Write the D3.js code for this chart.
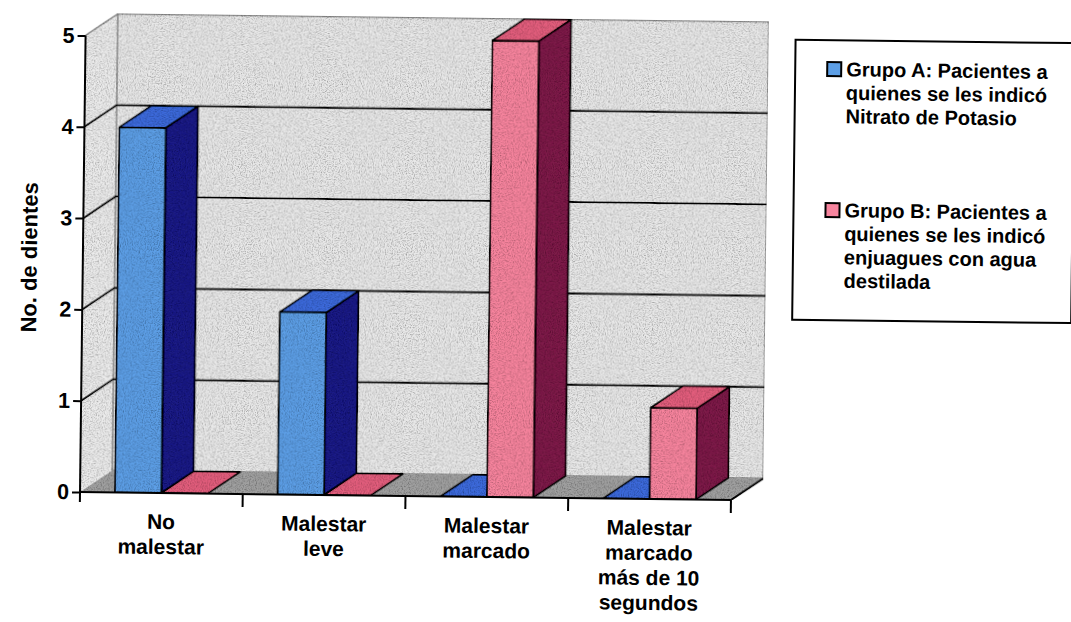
<!DOCTYPE html>
<html>
<head>
<meta charset="utf-8">
<script src="https://cdn.jsdelivr.net/npm/d3@7"></script>
<style>
  html, body { margin: 0; padding: 0; background: #ffffff; }
  svg { display: block; }
  text { font-family: "Liberation Sans", Arial, sans-serif; font-weight: bold; fill: #000; }
</style>
</head>
<body>
<svg id="chart" width="1071" height="622"></svg>
<script>
// ---- data ----
const categories = ["No malestar", "Malestar leve", "Malestar marcado", "Malestar marcado más de 10 segundos"];
const categoryLines = [["No", "malestar"], ["Malestar", "leve"], ["Malestar", "marcado"], ["Malestar", "marcado", "más de 10", "segundos"]];
const seriesKeys = ["A", "B"];
const grupoA = [4, 2, 0, 0];
const grupoB = [0, 0, 5, 1];
const yTicks = [0, 1, 2, 3, 4, 5];
const yTitle = "No. de dientes";
const legendA = ["Grupo A: Pacientes a", "quienes se les indicó", "Nitrato de Potasio"];
const legendB = ["Grupo B: Pacientes a", "quienes se les indicó", "enjuagues con agua", "destilada"];

// ---- styles ----
const colors = {
  A: { front: "#5d9fe6", top: "#3e6bdc", side: "#1b1a86" },
  B: { front: "#f7849e", top: "#e45f7e", side: "#7e1d48" }
};
const wallFill = "#e9e9e9";
const sideWallFill = "#ececec";
const floorFill = "#a0a0a0";

const svg = d3.select("#chart");

// speckle texture resembling the printed/scanned original
const defs = svg.append("defs");
const f = defs.append("filter").attr("id", "speckle")
  .attr("x", 0).attr("y", 0).attr("width", "100%").attr("height", "100%");
f.append("feTurbulence").attr("type", "fractalNoise").attr("baseFrequency", 0.85)
  .attr("numOctaves", 2).attr("seed", 4).attr("result", "n");
f.append("feColorMatrix").attr("in", "n").attr("type", "matrix")
  .attr("values", "0 0 0 0 0  0 0 0 0 0  0 0 0 0 0  1.4 0 0 0 -0.58").attr("result", "dots");
f.append("feComposite").attr("in", "dots").attr("in2", "SourceGraphic").attr("operator", "in").attr("result", "d2");
const fm = f.append("feMerge");
fm.append("feMergeNode").attr("in", "SourceGraphic");
fm.append("feMergeNode").attr("in", "d2");

const root = svg.append("g").attr("transform", "rotate(0.7, 80, 492)");
const plot = root.append("g").attr("filter", "url(#speckle)");

// geometry
const X0 = 80, X1 = 731, Y0 = 492;
const dX = 32, dY = -22;

const y = d3.scaleLinear().domain([0, 5]).range([Y0, Y0 - 5 * 91.3]);
const x0 = d3.scaleBand().domain(categories).range([X0, X1]).paddingInner(0).paddingOuter(0);
const x1 = d3.scaleBand().domain(seriesKeys).range([0, x0.bandwidth()]).paddingInner(0).paddingOuter(0.75);

const yTop = y(5);

// side wall
plot.append("path")
  .attr("d", `M${X0},${Y0} L${X0},${yTop} L${X0 + dX},${yTop + dY} L${X0 + dX},${Y0 + dY} Z`)
  .attr("fill", sideWallFill).attr("stroke", "none");
// back wall
plot.append("path")
  .attr("d", `M${X0 + dX},${yTop + dY} L${X1 + dX},${yTop + dY} L${X1 + dX},${Y0 + dY} L${X0 + dX},${Y0 + dY} Z`)
  .attr("fill", wallFill).attr("stroke", "#8c8c8c").attr("stroke-width", 1.5);
// side wall top edge
plot.append("line")
  .attr("x1", X0).attr("y1", yTop).attr("x2", X0 + dX).attr("y2", yTop + dY)
  .attr("stroke", "#8c8c8c").attr("stroke-width", 1.5);
// floor
plot.append("path")
  .attr("d", `M${X0},${Y0} L${X1},${Y0} L${X1 + dX},${Y0 + dY} L${X0 + dX},${Y0 + dY} Z`)
  .attr("fill", floorFill).attr("stroke", "none");
plot.append("line")
  .attr("x1", X1).attr("y1", Y0).attr("x2", X1 + dX).attr("y2", Y0 + dY)
  .attr("stroke", "#000").attr("stroke-width", 2);

// gridlines (side wall diagonal + back wall horizontal)
const gridVals = yTicks.filter(v => v > 0 && v < 5);
const grid = plot.append("g");
gridVals.forEach(v => {
  grid.append("path")
    .attr("d", `M${X0},${y(v)} L${X0 + dX},${y(v) + dY} L${X1 + dX},${y(v) + dY}`)
    .attr("fill", "none").attr("stroke", "#000").attr("stroke-width", 2);
});

// bars
const bars = plot.append("g");
categories.forEach((c, i) => {
  const vals = { A: grupoA[i], B: grupoB[i] };
  seriesKeys.forEach(k => {
    const v = vals[k];
    const bx = x0(c) + x1(k);
    const w = x1.bandwidth();
    const yv = y(v);
    const col = colors[k];
    const g = bars.append("g").attr("stroke", "#000").attr("stroke-width", 1.8).attr("stroke-linejoin", "round");
    if (v > 0) {
      g.append("path")
        .attr("d", `M${bx + w},${yv} L${bx + w + dX},${yv + dY} L${bx + w + dX},${Y0 + dY} L${bx + w},${Y0} Z`)
        .attr("fill", col.side);
      g.append("rect")
        .attr("x", bx).attr("y", yv).attr("width", w).attr("height", Y0 - yv)
        .attr("fill", col.front);
    }
    g.append("path")
      .attr("d", `M${bx},${yv} L${bx + dX},${yv + dY} L${bx + w + dX},${yv + dY} L${bx + w},${yv} Z`)
      .attr("fill", col.top);
  });
});

// floor front edge + category ticks
root.append("line")
  .attr("x1", X0).attr("y1", Y0).attr("x2", X1).attr("y2", Y0)
  .attr("stroke", "#000").attr("stroke-width", 2);
categories.forEach(c => {
  const tx = x0(c) + x0.bandwidth();
  root.append("line")
    .attr("x1", tx).attr("y1", Y0).attr("x2", tx).attr("y2", Y0 + 13)
    .attr("stroke", "#000").attr("stroke-width", 2);
});

// y axis
const yAxis = d3.axisLeft(y).tickValues(yTicks).tickSize(8).tickPadding(3).tickFormat(d3.format("d"));
const ya = root.append("g").attr("transform", `translate(${X0},0)`).call(yAxis);
ya.select(".domain").remove();
ya.selectAll(".tick line").attr("stroke", "#000").attr("stroke-width", 2);
ya.selectAll(".tick text")
  .style("font-family", '"Liberation Sans", Arial, sans-serif')
  .style("font-weight", "bold").style("font-size", "21.5px").attr("fill", "#000");
root.append("line")
  .attr("x1", X0).attr("y1", yTop).attr("x2", X0).attr("y2", Y0 + 10)
  .attr("stroke", "#000").attr("stroke-width", 2);

// y title
root.append("text")
  .attr("transform", `translate(34, ${258}) rotate(-90)`)
  .attr("text-anchor", "middle")
  .style("font-size", "22px")
  .text(yTitle);

// category labels
categories.forEach((c, i) => {
  const t = root.append("text")
    .attr("text-anchor", "middle")
    .style("font-size", "21px");
  categoryLines[i].forEach((ln, j) => {
    t.append("tspan")
      .attr("x", x0(c) + x0.bandwidth() / 2)
      .attr("y", 528 + j * 25)
      .text(ln);
  });
});

// legend
const lg = root.append("g");
lg.append("rect")
  .attr("x", 790).attr("y", 31).attr("width", 279).attr("height", 280)
  .attr("fill", "#fff").attr("stroke", "#000").attr("stroke-width", 2);
const legendItems = [
  { key: "A", lines: legendA, y: 67 },
  { key: "B", lines: legendB, y: 208 }
];
legendItems.forEach(it => {
  lg.append("rect")
    .attr("x", 822).attr("y", it.y - 14).attr("width", 14).attr("height", 14)
    .attr("fill", colors[it.key].front).attr("stroke", "#000").attr("stroke-width", 2);
  const t = lg.append("text").style("font-size", "20px");
  it.lines.forEach((ln, j) => {
    t.append("tspan").attr("x", 841).attr("y", it.y + j * 23.5).text(ln);
  });
});
</script>
</body>
</html>
